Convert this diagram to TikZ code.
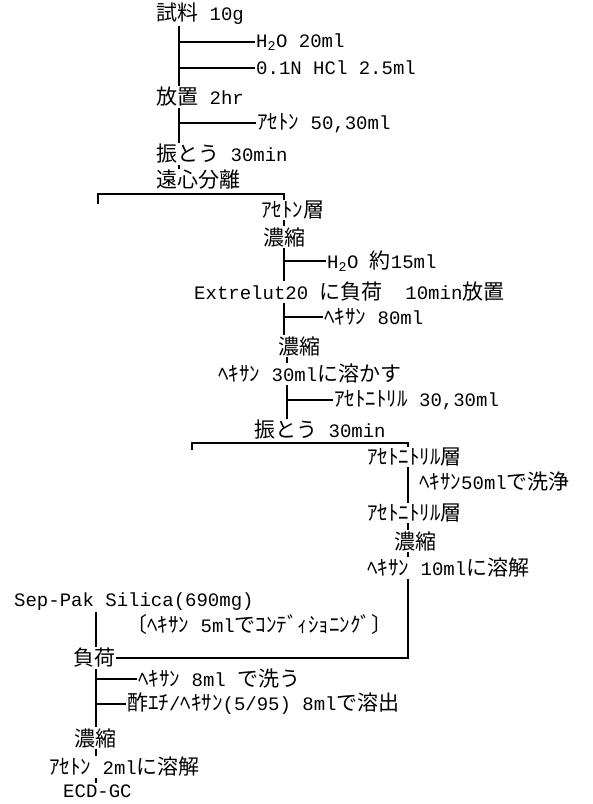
\documentclass[tikz,border=0pt]{standalone}
\usepackage{fontspec}
\setmainfont{Liberation Mono}
\newfontfamily\jpfont{Noto Sans CJK JP}
\newcommand{\jpn}[1]{{\jpfont\fontsize{21}{24}\selectfont #1}}
\begin{document}
\begin{tikzpicture}[
        x=1pt, y=-1pt,
        every node/.style={inner sep=1pt, font=\fontsize{19}{22}\selectfont},
        lbl/.style={anchor=west},
        trunk/.style={line width=2.4pt},
        branch/.style={line width=2pt},
        thin trunk/.style={line width=1.4pt}
    ]
        \useasboundingbox (0,0) rectangle (593,804);

        % Spine positions
        \coordinate (c1) at (179,0);
        \coordinate (c2) at (284,0);
        \coordinate (c3) at (287,0);
        \coordinate (c4) at (408,0);
        \coordinate (c5) at (96,0);

        % Steps and added reagents
        \node[lbl] (s1) at (155,14) {\jpn{試料} 10g};
        \node[lbl] (a1) at (255,42) {H\textsubscript{2}O 20ml};
        \node[lbl] (a2) at (255,68) {0.1N HCl 2.5ml};
        \node[lbl] (s2) at (155,97) {\jpn{放置} 2hr};
        \node[lbl] (a3) at (256,123) {\jpn{ｱｾﾄﾝ} 50,30ml};
        \node[lbl] (s3) at (155,154) {\jpn{振とう} 30min};
        \node[lbl] (s4) at (155,180) {\jpn{遠心分離}};
        \node[lbl] (s5) at (260,210) {\jpn{ｱｾﾄﾝ層}};
        \node[lbl] (s6) at (262,237) {\jpn{濃縮}};
        \node[lbl] (a4) at (326,261) {H\textsubscript{2}O \jpn{約}15ml};
        \node[lbl] (s7) at (193,292) {Extrelut20 \jpn{に負荷}\ \ 10min\jpn{放置}};
        \node[lbl] (a5) at (323,317) {\jpn{ﾍｷｻﾝ} 80ml};
        \node[lbl] (s8) at (277,346) {\jpn{濃縮}};
        \node[lbl] (s9) at (217,374) {\jpn{ﾍｷｻﾝ} 30ml\jpn{に溶かす}};
        \node[lbl] (a6) at (333,400) {\jpn{ｱｾﾄﾆﾄﾘﾙ} 30,30ml};
        \node[lbl] (s10) at (253,430) {\jpn{振とう} 30min};
        \node[lbl] (s11) at (366,457) {\jpn{ｱｾﾄﾆﾄﾘﾙ層}};
        \node[lbl] (a7) at (418,482) {\jpn{ﾍｷｻﾝ}50ml\jpn{で洗浄}};
        \node[lbl] (s12) at (366,513) {\jpn{ｱｾﾄﾆﾄﾘﾙ層}};
        \node[lbl] (s13) at (393,541) {\jpn{濃縮}};
        \node[lbl] (s14) at (366,568) {\jpn{ﾍｷｻﾝ} 10ml\jpn{に溶解}};
        \node[lbl] (s15) at (13,602) {Sep-Pak Silica(690mg)};
        \node[lbl] (a8) at (125,625) {\jpn{〔ﾍｷｻﾝ} 5ml\jpn{でｺﾝﾃﾞｨｼｮﾆﾝｸﾞ〕}};
        \node[lbl] (s16) at (72,658) {\jpn{負荷}};
        \node[lbl] (a9) at (137,679) {\jpn{ﾍｷｻﾝ} 8ml \jpn{で洗う}};
        \node[lbl] (a10) at (126,704) {\jpn{酢ｴﾁ}/\jpn{ﾍｷｻﾝ}(5/95) 8ml\jpn{で溶出}};
        \node[lbl] (s17) at (73,738) {\jpn{濃縮}};
        \node[lbl] (s18) at (48,767) {\jpn{ｱｾﾄﾝ} 2ml\jpn{に溶解}};
        \node[lbl] (s19) at (62,791) {ECD-GC};

        % Bracket ends
        \coordinate (k1) at (98,204);
        \coordinate (k2) at (284,194);
        \coordinate (k3) at (192,450);
        \coordinate (k4) at (408,443);

        % First column
        \draw[trunk] (s1.south -| c1) -- (s2.north -| c1);
        \draw[branch] (a1.west -| c1) -- (a1.west);
        \draw[branch] (a2.west -| c1) -- (a2.west);
        \draw[trunk] (s2.south -| c1) -- (s3.north -| c1);
        \draw[branch] (a3.west -| c1) -- (a3.west);
        \draw[thin trunk] (s3.south -| c1) -- (s4.north -| c1);

        % Acetone layer
        \draw[trunk] (k1) -- (k1 |- k2) -- (k2) -- (s5.north -| c2);
        \draw[trunk] (s5.south -| c2) -- (s6.north -| c2);
        \draw[trunk] (s6.south -| c2) -- (s7.north -| c2);
        \draw[branch] (a4.west -| c2) -- (a4.west);
        \draw[trunk] (s7.south -| c2) -- (s8.north -| c2);
        \draw[branch] (a5.west -| c2) -- (a5.west);
        \draw[thin trunk] (s8.south -| c3) -- (s9.north -| c3);
        \draw[trunk] (s9.south -| c3) -- (s10.north -| c3);
        \draw[branch] (a6.west -| c3) -- (a6.west);

        % Acetonitrile layer
        \draw[trunk] (k3) -- (k3 |- k4) -- (k4) -- (s11.north -| c4);
        \draw[trunk] (s11.south -| c4) -- (s12.north -| c4);
        \draw[thin trunk] (s12.south -| c4) -- (s13.north -| c4);
        \draw[thin trunk] (s13.south -| c4) -- (s14.north -| c4);
        \draw[trunk] (s14.south -| c4) -- (s16.east -| c4) -- (s16.east);

        % Sep-Pak column
        \draw[trunk] (s15.south -| c5) -- (s16.north -| c5);
        \draw[trunk] (s16.south -| c5) -- (s17.north -| c5);
        \draw[branch] (a9.west -| c5) -- (a9.west);
        \draw[branch] (a10.west -| c5) -- (a10.west);
        \draw[thin trunk] (s17.south -| c5) -- (s18.north -| c5);
        \draw[thin trunk] (s18.south -| c5) -- (s19.north -| c5);

    \end{tikzpicture}
\end{document}
